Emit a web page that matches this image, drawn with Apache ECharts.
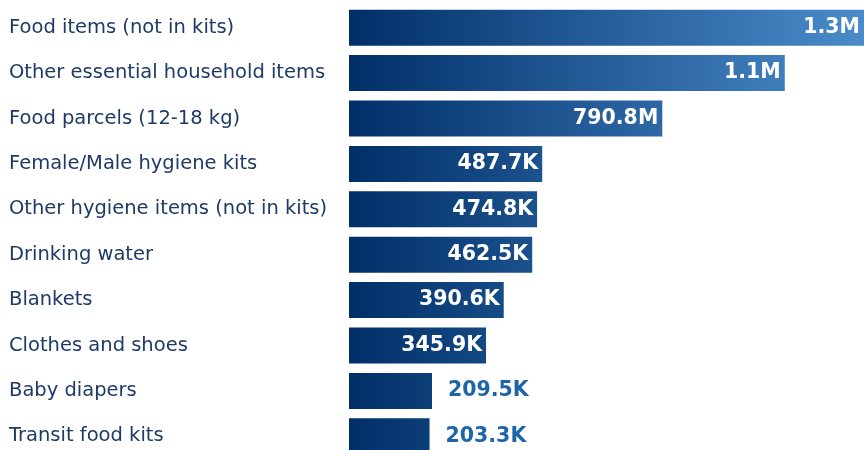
<!DOCTYPE html>
<html>
<head>
<meta charset="utf-8">
<script src="https://cdn.jsdelivr.net/npm/echarts@6/dist/echarts.min.js"></script>
<style>
html,body{margin:0;padding:0;background:#fff;}
#main{width:864px;height:450px;}
</style>
</head>
<body>
<div id="main"></div>
<script>
// categories top to bottom
var categories = ['Food items (not in kits)','Other essential household items','Food parcels (12-18 kg)',
	'Female/Male hygiene kits','Other hygiene items (not in kits)','Drinking water','Blankets',
	'Clothes and shoes','Baby diapers','Transit food kits'];
var values = [1300000,1100000,790800,487700,474800,462500,390600,345900,209500,203300];
var valueLabels = ['1.3M','1.1M','790.8M','487.7K','474.8K','462.5K','390.6K','345.9K','209.5K','203.3K'];

var chart = echarts.init(document.getElementById('main'));
var maxVal = Math.max.apply(null, values);

var grad = new echarts.graphic.LinearGradient(349, 0, 864, 0, [
	{offset:0, color:'#002f68'},
	{offset:0.5, color:'#265e9b'},
	{offset:1, color:'#4b8bca'}
], true);

var barData = values.map(function(v,i){
	var inside = v/maxVal > 0.22;
	return {
		value:v,
		label:{
			position: inside ? 'insideRight' : 'right',
			distance: inside ? 4 : 16,
			color: inside ? '#ffffff' : '#1d64aa'
		}
	};
});

var option = {
	animation:false,
	grid:{left:349,right:0,top:5,bottom:-9,outerBoundsMode:'none',containLabel:false},
	xAxis:{type:'value',min:0,max:maxVal,show:false},
	yAxis:{
		type:'category',
		inverse:true,
		data:categories,
		axisLine:{show:false},
		axisTick:{show:false},
		axisLabel:{
			align:'left',
			margin:340,
			color:'#1e3a66',
			fontFamily:'DejaVu Sans',
			fontSize:19.5
		}
	},
	series:[{
		type:'bar',
		data:barData,
		barWidth:36,
		itemStyle:{color:grad},
		label:{
			show:true,
			fontFamily:'DejaVu Sans',
			fontWeight:'bold',
			fontSize:20.5,
			formatter:function(p){return valueLabels[p.dataIndex];}
		}
	}]
};
chart.setOption(option);
</script>
</body>
</html>
